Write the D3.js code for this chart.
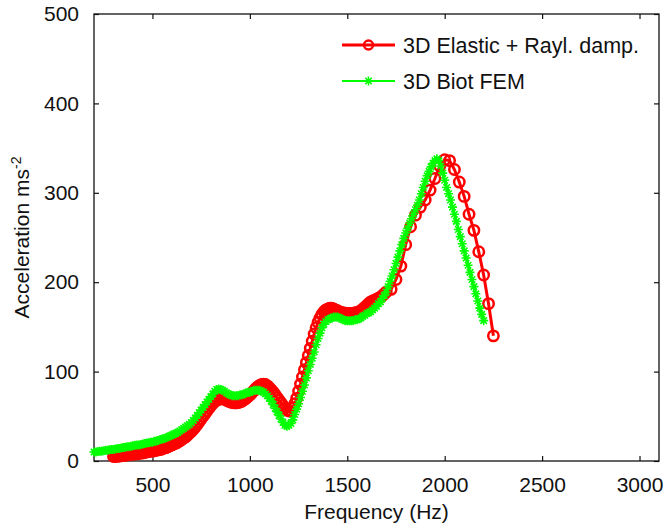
<!DOCTYPE html>
<html>
<head>
<meta charset="utf-8">
<script src="https://cdn.jsdelivr.net/npm/d3@7"></script>
<style>
  body { margin: 0; background: #fff; }
  svg { display: block; }
  text { font-family: "Liberation Sans", Arial, sans-serif; fill: #111; }
</style>
</head>
<body>
<svg id="chart" width="665" height="532"></svg>
<script>
// 3D Elastic + Rayleigh damping (red, circles)
const redFreq = [
  300, 310, 320, 330, 340, 350, 360, 370, 380, 390,
  400, 410, 420, 430, 440, 450, 460, 470, 480, 490,
  500, 510, 520, 530, 540, 550, 560, 570, 580, 590,
  600, 610, 620, 630, 640, 650, 660, 670, 680, 690,
  700, 710, 720, 730, 740, 750, 760, 770, 780, 790,
  800, 810, 820, 830, 840, 850, 860, 870, 880, 890,
  900, 910, 920, 930, 940, 950, 960, 970, 980, 990,
  1000, 1010, 1020, 1030, 1040, 1050, 1060, 1070, 1080, 1090,
  1100, 1110, 1120, 1130, 1140, 1150, 1160, 1170, 1180, 1190,
  1200, 1210, 1220, 1230, 1240, 1250, 1260, 1270, 1280, 1290,
  1300, 1310, 1320, 1330, 1340, 1350, 1360, 1370, 1380, 1390,
  1400, 1410, 1420, 1430, 1440, 1450, 1460, 1470, 1480, 1490,
  1500, 1510, 1520, 1530, 1540, 1550, 1560, 1570, 1580, 1590,
  1600, 1610, 1620, 1630, 1640, 1650, 1660, 1670, 1680, 1690,
  1700, 1725, 1750, 1775, 1800, 1825, 1850, 1875, 1900, 1925,
  1950, 1975, 2000, 2025, 2050, 2075, 2100, 2125, 2150, 2175,
  2200, 2225, 2250
]
const redAcc = [
  5, 5, 5.5, 5.5, 6, 6, 6.5, 7, 7, 7.5,
  7.5, 8, 8, 8.5, 9, 9, 9.5, 10, 10.5, 11,
  11, 11.5, 12, 12.5, 13, 13.5, 14.5, 15, 16, 17,
  18, 19, 20, 21, 22.5, 24, 25.5, 27, 29, 31,
  33, 35.5, 38, 41, 44, 47, 50, 53, 56, 59,
  62, 64.5, 66.5, 68, 69, 69.5, 69.5, 69, 68, 67,
  66, 65.5, 65, 65, 65.5, 66, 67, 68.5, 70, 72,
  74, 76, 78.5, 81, 83, 84.5, 85.5, 86, 85.5, 84,
  82, 79.5, 77, 74, 71, 68, 65, 62, 59, 57,
  56, 56, 59, 64, 70, 78, 86, 94, 102, 110,
  118, 126, 134, 142, 149, 155, 160, 164, 167, 169,
  170, 171, 171, 170, 169, 168, 167, 166, 166, 165,
  165, 165, 165, 165, 166, 166, 167, 168, 170, 172,
  174, 176, 178, 179, 180, 181, 182, 183, 185, 187,
  189, 192, 203, 218, 242, 262, 275, 284, 292, 303,
  316, 330, 337, 336, 326, 312, 296, 276, 258, 234,
  208, 176, 140
]

// 3D Biot FEM (green, stars)
const greenFreq = [
  200, 210, 220, 230, 240, 250, 260, 270, 280, 290,
  300, 310, 320, 330, 340, 350, 360, 370, 380, 390,
  400, 410, 420, 430, 440, 450, 460, 470, 480, 490,
  500, 510, 520, 530, 540, 550, 560, 570, 580, 590,
  600, 610, 620, 630, 640, 650, 660, 670, 680, 690,
  700, 710, 720, 730, 740, 750, 760, 770, 780, 790,
  800, 810, 820, 830, 840, 850, 860, 870, 880, 890,
  900, 910, 920, 930, 940, 950, 960, 970, 980, 990,
  1000, 1010, 1020, 1030, 1040, 1050, 1060, 1070, 1080, 1090,
  1100, 1110, 1120, 1130, 1140, 1150, 1160, 1170, 1180, 1190,
  1200, 1210, 1220, 1230, 1240, 1250, 1260, 1270, 1280, 1290,
  1300, 1310, 1320, 1330, 1340, 1350, 1360, 1370, 1380, 1390,
  1400, 1410, 1420, 1430, 1440, 1450, 1460, 1470, 1480, 1490,
  1500, 1510, 1520, 1530, 1540, 1550, 1560, 1570, 1580, 1590,
  1600, 1610, 1620, 1630, 1640, 1650, 1660, 1670, 1680, 1690,
  1700, 1710, 1720, 1730, 1740, 1750, 1760, 1770, 1780, 1790,
  1800, 1810, 1820, 1830, 1840, 1850, 1860, 1870, 1880, 1890,
  1900, 1910, 1920, 1930, 1940, 1950, 1960, 1970, 1980, 1990,
  2000, 2010, 2020, 2030, 2040, 2050, 2060, 2070, 2080, 2090,
  2100, 2110, 2120, 2130, 2140, 2150, 2160, 2170, 2180, 2190,
  2200
]
const greenAcc = [
  10, 10, 10.5, 11, 11, 11.5, 12, 12, 12.5, 13,
  13, 13.5, 14, 14, 14.5, 15, 15.5, 16, 16, 16.5,
  17, 17.5, 18, 18, 18.5, 19, 19.5, 20, 20.5, 21,
  21, 22, 22.5, 23, 24, 24.5, 25, 26, 27, 28,
  29, 30, 31, 32, 33.5, 35, 36.5, 38, 39.5, 41,
  43, 45.5, 48, 51, 54, 57, 60, 63, 66, 69,
  72, 75, 78, 80, 80.5, 80, 79, 78, 76, 75,
  74, 73, 73, 73, 73, 74, 74, 75, 76, 77,
  77, 78, 79, 79, 79, 79, 78, 77, 75, 73,
  70, 67, 63, 59, 55, 51, 47, 43, 40, 39,
  40, 42, 46, 52, 58, 64, 71, 78, 85, 93,
  101, 108, 115, 122, 130, 137, 143, 149, 153, 156,
  158, 159, 160, 161, 161, 161, 160, 159, 158, 157,
  157, 157, 157, 157, 158, 158, 159, 160, 162, 163,
  165, 166, 167, 169, 171, 173, 176, 178, 182, 185,
  189, 195, 201, 207, 214, 221, 228, 235, 242, 249,
  255, 260, 266, 271, 276, 281, 286, 292, 299, 306,
  313, 319, 324, 329, 333, 336, 338, 336, 330, 322,
  314, 306, 299, 292, 284, 276, 268, 259, 251, 243,
  235, 227, 219, 211, 203, 195, 187, 179, 171, 164,
  157
]

const xTicks = [500, 1000, 1500, 2000, 2500, 3000]
const yTicks = [0, 100, 200, 300, 400, 500]
const seriesNames = ["3D Elastic + Rayl. damp.", "3D Biot FEM"]

const margin = { top: 14, right: 6, bottom: 71, left: 94 }
const W = 665, H = 532
const svg = d3.select("#chart")

let x = d3.scaleLinear().domain([200, 3100]).range([margin.left, W - margin.right])
let y = d3.scaleLinear().domain([0, 500]).range([H - margin.bottom, margin.top])

// axes, ticks inward on all four sides
svg.append("g")
    .attr("transform", "translate(0," + (H - margin.bottom) + ")")
    .call(d3.axisBottom(x).tickValues(xTicks).tickFormat(d3.format("d"))
        .tickSizeInner(-5).tickSizeOuter(0).tickPadding(16))
svg.append("g")
    .attr("transform", "translate(0," + margin.top + ")")
    .call(d3.axisTop(x).tickValues(xTicks).tickSizeInner(-5).tickSizeOuter(0).tickFormat(""))
svg.append("g")
    .attr("transform", "translate(" + margin.left + ",0)")
    .call(d3.axisLeft(y).tickValues(yTicks).tickSizeInner(-5).tickSizeOuter(0).tickPadding(15))
svg.append("g")
    .attr("transform", "translate(" + (W - margin.right) + ",0)")
    .call(d3.axisRight(y).tickValues(yTicks).tickSizeInner(-5).tickSizeOuter(0).tickFormat(""))

svg.selectAll(".tick line").attr("stroke", "#111").attr("stroke-width", 1.2)
svg.selectAll(".domain").remove()
svg.selectAll(".tick text").style("font-size", "21px").attr("fill", "#111")

svg.append("rect")
    .attr("x", margin.left)
    .attr("y", margin.top)
    .attr("width", W - margin.left - margin.right)
    .attr("height", H - margin.top - margin.bottom)
    .attr("fill", "none")
    .attr("stroke", "#111")
    .attr("stroke-width", 1.3)

// axis titles
svg.append("text")
    .attr("x", (margin.left + W - margin.right) / 2)
    .attr("y", 519)
    .attr("text-anchor", "middle")
    .style("font-size", "21px")
    .text("Frequency (Hz)")

let ylab = svg.append("text")
    .attr("transform", "translate(29," + (margin.top + H - margin.bottom) / 2 + ") rotate(-90)")
    .attr("text-anchor", "middle")
    .style("font-size", "21px")
ylab.append("tspan").text("Acceleration ms")
ylab.append("tspan").attr("dy", -8).style("font-size", "14px").text("-2")

// series
let redData = redFreq.map((f, i) => [f, redAcc[i]])
let greenData = greenFreq.map((f, i) => [f, greenAcc[i]])
let lineGenerator = d3.line().x((d) => x(d[0])).y((d) => y(d[1]))

const starPath = (s) => {
    let k = s * 0.72
    return "M" + -s + ",0H" + s + "M0," + -s + "V" + s +
        "M" + -k + "," + -k + "L" + k + "," + k + "M" + -k + "," + k + "L" + k + "," + -k
}

svg.append("path")
    .attr("d", lineGenerator(redData))
    .attr("fill", "none")
    .attr("stroke", "#ff0000")
    .attr("stroke-width", 3)

svg.append("g")
    .selectAll("circle")
    .data(redData)
    .enter()
    .append("circle")
    .attr("cx", (d) => x(d[0]))
    .attr("cy", (d) => y(d[1]))
    .attr("r", 5.2)
    .attr("fill", "none")
    .attr("stroke", "#ff0000")
    .attr("stroke-width", 2.5)

svg.append("path")
    .attr("d", lineGenerator(greenData))
    .attr("fill", "none")
    .attr("stroke", "#00ff00")
    .attr("stroke-width", 2)

svg.append("g")
    .selectAll("path")
    .data(greenData)
    .enter()
    .append("path")
    .attr("transform", (d) => "translate(" + x(d[0]) + "," + y(d[1]) + ")")
    .attr("d", starPath(4.5))
    .attr("fill", "none")
    .attr("stroke", "#00ff00")
    .attr("stroke-width", 1.6)

// legend
let legend = svg.append("g")
let legendRows = [
    { name: seriesNames[0], color: "#ff0000", width: 3, y: 45, marker: "circle" },
    { name: seriesNames[1], color: "#00ff00", width: 2, y: 81, marker: "star" },
]
legendRows.forEach((row) => {
    legend.append("line")
        .attr("x1", 342).attr("x2", 395)
        .attr("y1", row.y).attr("y2", row.y)
        .attr("stroke", row.color)
        .attr("stroke-width", row.width)
    if (row.marker == "circle") {
        legend.append("circle")
            .attr("cx", 368.5).attr("cy", row.y).attr("r", 4.5)
            .attr("fill", "none").attr("stroke", row.color).attr("stroke-width", 2.4)
    } else {
        legend.append("path")
            .attr("transform", "translate(368.5," + row.y + ")")
            .attr("d", starPath(4.5))
            .attr("fill", "none").attr("stroke", row.color).attr("stroke-width", 1.6)
    }
    legend.append("text")
        .attr("x", 403)
        .attr("y", row.y + 7.5)
        .style("font-size", "21.5px")
        .text(row.name)
})
</script>
</body>
</html>
